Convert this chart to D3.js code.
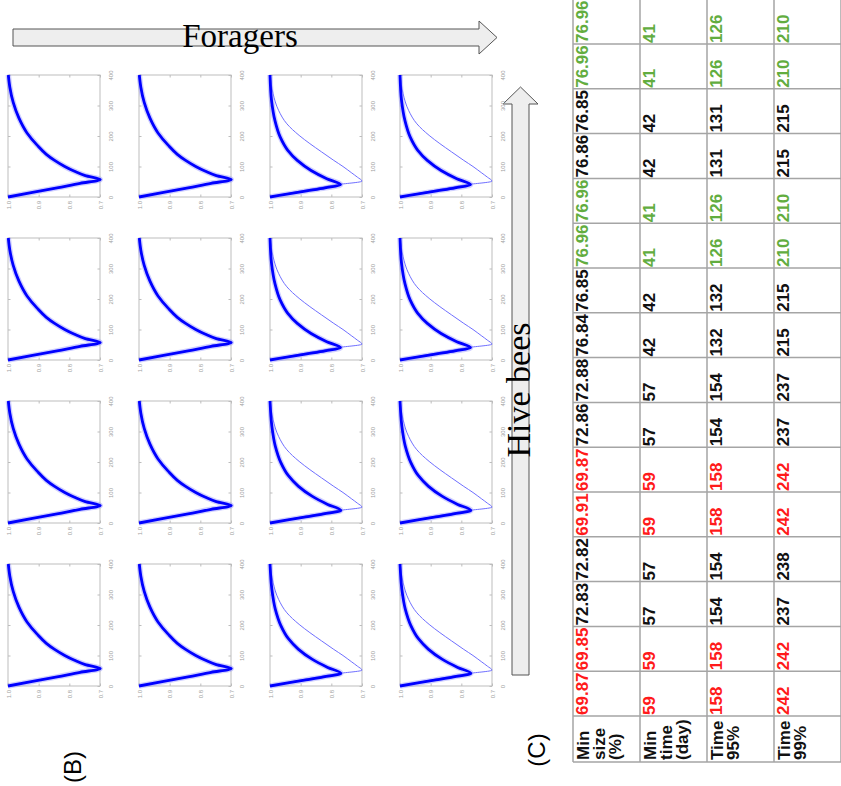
<!DOCTYPE html>
<html lang="en">
<head>
<meta charset="UTF-8">
<title>Foragers / Hive bees</title>
<style>
  body { margin: 0; background: #fff; }
  svg { display: block; }
</style>
</head>
<body>
<script src="https://cdnjs.cloudflare.com/ajax/libs/d3/7.8.5/d3.min.js"></script>
<script>
'use strict';

// ---- data ----
const timeTicks = [0, 100, 200, 300, 400];
const sizeTicks = [0.7, 0.8, 0.9, 1];

// curves: [day, relative size]
const curveA = [[0,1],[15,.92],[30,.84],[45,.765],[57,.699],[70,.748],[85,.785],[100,.815],[120,.848],[140,.875],[170,.905],[210,.938],[260,.965],[310,.983],[360,.994],[400,.999]];
const curveC = [[0,1],[10,.94],[20,.88],[30,.82],[40,.77],[60,.815],[87,.866],[120,.911],[153,.942],[197,.967],[251,.984],[317,.995],[400,1]];
const curveD = [[0,1],[10,.942],[20,.883],[30,.825],[41,.769],[61,.812],[88,.863],[121,.908],[155,.94],[199,.965],[253,.983],[318,.994],[400,1]];
const thinCurve = [[0,1],[13,.935],[26,.865],[40,.785],[52,.70],[65,.715],[80,.735],[100,.762],[120,.792],[148,.832],[175,.87],[202,.905],[240,.945],[284,.972],[339,.99],[400,.999]];

const minSize = ["69.87","69.85","72.83","72.82","69.91","69.87","72.86","72.88","76.84","76.85","76.96","76.96","76.86","76.85","76.96","76.96"];
const minTime = [59,59,57,57,59,59,57,57,42,42,41,41,42,42,41,41];
const time95  = [158,158,154,154,158,158,154,154,132,132,126,126,131,131,126,126];
const time99  = [242,242,237,238,242,242,237,237,215,215,210,210,215,215,210,210];
const rowTone = ["red","red","black","black","red","red","black","black","black","black","green","green","black","black","green","green"];
// thick curve drawn in each panel (column-major, bottom row first)
const panelCurve = ["A","A","A","A","A","A","A","A","D","D","C","C","D","D","C","C"];
const rowHeaders = [["Min","size","(%)"],["Min","time","(day)"],["Time","95%"],["Time","99%"]];

const curves = {A: curveA, C: curveC, D: curveD};
const tones = {red: "#ff1a1a", black: "#111", green: "#62ad3f"};

const svg = d3.select("body").append("svg")
  .attr("width", 841)
  .attr("height", 786);

// ---- arrows ----
svg.append("polygon")
  .attr("points", "13,29 479,29 479,21 497,37.5 479,54 479,46 13,46")
  .attr("fill", "#eeeeee").attr("stroke", "#555").attr("stroke-width", 1);
svg.append("text")
  .attr("x", 240).attr("y", 47)
  .attr("text-anchor", "middle")
  .style("font-family", "'Liberation Serif', 'DejaVu Serif', serif")
  .style("font-size", "33px")
  .text("Foragers");

svg.append("polygon")
  .attr("points", "512,675 512,104 503,104 520.5,87 538,104 529,104 529,675")
  .attr("fill", "#eeeeee").attr("stroke", "#555").attr("stroke-width", 1);
svg.append("text")
  .attr("transform", "translate(530,390) rotate(-90)")
  .attr("text-anchor", "middle")
  .style("font-family", "'Liberation Serif', 'DejaVu Serif', serif")
  .style("font-size", "34px")
  .text("Hive bees");

// ---- small panels (B) ----
const colLeft = [8, 139, 270, 400];
const rowTop = [75, 238, 401, 564];
const boxW = 92, boxH = 122;

const x = d3.scaleLinear().domain([1, 0.7]).range([0, boxW]);
const y = d3.scaleLinear().domain([0, 400]).range([boxH, 0]);
const line = d3.line()
  .x(d => x(d[1]))
  .y(d => y(d[0]))
  .curve(d3.curveMonotoneY);

colLeft.forEach((cx, c) => {
  rowTop.forEach((ry, r) => {
    const idx = c * 4 + (3 - r);
    const g = svg.append("g").attr("transform", `translate(${cx},${ry})`);

    g.append("rect")
      .attr("width", boxW).attr("height", boxH)
      .attr("fill", "none").attr("stroke", "#bdbdbd").attr("stroke-width", 1);

    // inner ticks on all four sides
    const right = g.append("g").attr("transform", `translate(${boxW},0)`)
      .call(d3.axisRight(y).tickValues(timeTicks).tickSize(-2.5));
    const bottom = g.append("g").attr("transform", `translate(0,${boxH})`)
      .call(d3.axisBottom(x).tickValues(sizeTicks).tickSize(-2.5).tickFormat(d3.format(".1f")));
    g.append("g").call(d3.axisTop(x).tickValues(sizeTicks).tickSize(-2.5).tickFormat(""));
    g.append("g").call(d3.axisLeft(y).tickValues(timeTicks).tickSize(-2.5).tickFormat(""));

    g.selectAll(".domain").remove();
    g.selectAll(".tick line").attr("stroke", "#bdbdbd");

    right.selectAll("text")
      .attr("x", null).attr("dy", null)
      .attr("transform", "translate(13,0) rotate(-90)")
      .attr("text-anchor", "middle")
      .attr("fill", "#a0a0a0")
      .style("font-size", "6px");
    bottom.selectAll("text")
      .attr("y", null).attr("dy", null)
      .attr("transform", "translate(2,4) rotate(-90)")
      .attr("text-anchor", "end")
      .attr("fill", "#a0a0a0")
      .style("font-size", "6px");

    if (c >= 2) {
      g.append("path").datum(thinCurve)
        .attr("d", line)
        .attr("fill", "none")
        .attr("stroke", "#6f6fff")
        .attr("stroke-width", 1);
    }
    const main = curves[panelCurve[idx]];
    g.append("path").datum(main)
      .attr("d", line)
      .attr("fill", "none")
      .attr("stroke", "#8a8aff")
      .attr("stroke-opacity", 0.4)
      .attr("stroke-width", 5.5);
    g.append("path").datum(main)
      .attr("d", line)
      .attr("fill", "none")
      .attr("stroke", "#0000ff")
      .attr("stroke-width", 2.8);
  });
});

svg.append("text")
  .attr("transform", "translate(81,767) rotate(-90)")
  .attr("text-anchor", "middle")
  .style("font-family", "'Liberation Sans', Arial, sans-serif")
  .style("font-size", "24px")
  .text("(B)");

svg.append("text")
  .attr("transform", "translate(545,750) rotate(-90)")
  .attr("text-anchor", "middle")
  .style("font-family", "'Liberation Sans', Arial, sans-serif")
  .style("font-size", "24px")
  .text("(C)");

// ---- table (C) ----
const tableCols = d3.scaleBand().domain(d3.range(4)).range([573, 841]);
const tableRows = d3.scaleBand().domain(d3.range(16)).range([716, -0.8]);
const headerBottom = 762;
const columns = [minSize, minTime, time95, time99];

const tbl = svg.append("g")
  .style("font-family", "'Liberation Sans', Arial, sans-serif")
  .style("font-weight", "bold")
  .style("font-size", "17px");

const hLines = d3.range(16).map(i => tableRows(i)).concat([716, headerBottom]);
tbl.selectAll("line.h").data(hLines).enter().append("line")
  .attr("class", "h")
  .attr("x1", 573).attr("x2", 841)
  .attr("y1", d => d).attr("y2", d => d)
  .attr("stroke", "#a5a5a5").attr("stroke-width", 1.5);
const vLines = d3.range(4).map(k => tableCols(k)).concat([841]);
tbl.selectAll("line.v").data(vLines).enter().append("line")
  .attr("class", "v")
  .attr("x1", d => d).attr("x2", d => d)
  .attr("y1", -1).attr("y2", headerBottom)
  .attr("stroke", "#a5a5a5").attr("stroke-width", 1.5);

columns.forEach((vals, k) => {
  tbl.selectAll(null).data(vals).enter().append("text")
    .attr("transform", (d, i) =>
      `translate(${tableCols(k) + 15},${tableRows(i) + tableRows.bandwidth() - 1}) rotate(-90)`)
    .attr("fill", (d, i) => tones[rowTone[i]])
    .text(d => d);
});

rowHeaders.forEach((lines, k) => {
  lines.forEach((s, j) => {
    tbl.append("text")
      .attr("transform", `translate(${tableCols(k) + 16 + j * 16},${headerBottom - 2}) rotate(-90)`)
      .attr("fill", "#111")
      .text(s);
  });
});
</script>
</body>
</html>
